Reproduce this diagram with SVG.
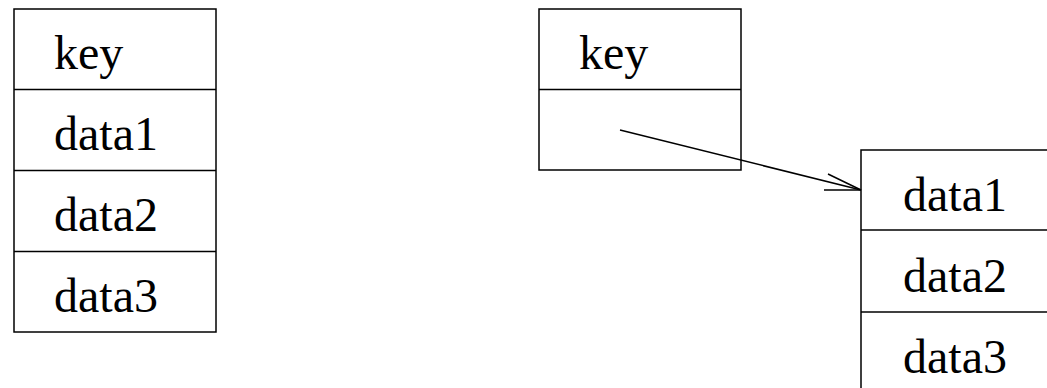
<svg xmlns="http://www.w3.org/2000/svg" width="1047" height="388" viewBox="0 0 1047 388">
<style>
.box{fill:none;stroke:#000;stroke-width:1.5}
text{font-family:'Liberation Serif','Times New Roman',serif;font-size:48px;fill:#000}
.c{fill:none;stroke:#000;stroke-width:1.5}
</style>
<rect width="1047" height="388" fill="#fff"/>
<g id="record-left">
<rect class="box" x="14" y="9" width="202" height="323"/>
<line class="box" x1="14" y1="89.5" x2="216" y2="89.5"/>
<line class="box" x1="14" y1="170.5" x2="216" y2="170.5"/>
<line class="box" x1="14" y1="251.5" x2="216" y2="251.5"/>
<text x="54" y="69">key</text>
<text x="54" y="150">data1</text>
<text x="54" y="231">data2</text>
<text x="54" y="312">data3</text>
</g>
<g id="record-key">
<rect class="box" x="539" y="9" width="202" height="161"/>
<line class="box" x1="539" y1="89.5" x2="741" y2="89.5"/>
<text x="579" y="69">key</text>
</g>
<g id="record-data">
<rect class="box" x="861" y="150" width="200" height="260"/>
<line class="box" x1="861" y1="230" x2="1047" y2="230"/>
<line class="box" x1="861" y1="312" x2="1047" y2="312"/>
<text x="903" y="211">data1</text>
<text x="903" y="292">data2</text>
<text x="903" y="373">data3</text>
</g>
<g id="connectors">
<line class="c" x1="620" y1="130" x2="861" y2="190"/>
<polyline class="c" points="828,174 861,190 824,190"/>
</g>
</svg>
